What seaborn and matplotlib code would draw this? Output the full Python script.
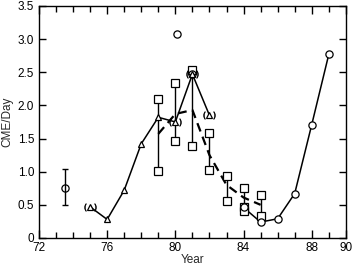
import matplotlib
matplotlib.use("Agg")
import matplotlib.pyplot as plt
import seaborn as sns
import pandas as pd
import numpy as np

# Solid series 1 (triangles)
yr_tri = [75, 76, 77, 78, 79, 80, 81, 82]
val_tri = [0.47, 0.28, 0.72, 1.42, 1.82, 1.75, 2.47, 1.85]
paren_tri_years = [75, 80, 81, 82]

# Solid series 2 (circles)
yr_circ = [84, 85, 86, 87, 88, 89]
val_circ = [0.46, 0.24, 0.29, 0.67, 1.71, 2.77]

# Dashed series (mean)
yr_dash = [79, 80, 81, 82, 83, 84, 85]
val_dash = [1.57, 1.87, 1.93, 1.25, 0.80, 0.61, 0.50]

# Square range data
yr_sq = [79, 79, 80, 80, 81, 81, 82, 82, 83, 83, 84, 84, 84, 85, 85]
val_sq = [2.10, 1.01, 2.33, 1.47, 2.53, 1.39, 1.59, 1.02, 0.94, 0.56, 0.76, 0.47, 0.40, 0.65, 0.33]

# Isolated circles
yr_iso = [73.5, 80.1, 81.0]
val_iso = [0.75, 3.07, 2.47]
err_year = 73.5
err_lo, err_hi = 0.49, 1.04

x_major = [72, 76, 80, 84, 88, 90]
y_ticks = [0, 0.5, 1.0, 1.5, 2.0, 2.5, 3.0, 3.5]
y_labels = ["0", "0.5", "1.0", "1.5", "2.0", "2.5", "3.0", "3.5"]

sns.set_style("ticks")
plt.rcParams['font.family'] = ['Liberation Sans', 'DejaVu Sans']

fig = plt.figure(figsize=(3.54, 2.68), dpi=100)
ax = fig.add_axes([0.110, 0.112, 0.867, 0.866])

df_tri = pd.DataFrame({"Year": yr_tri, "v": val_tri})
df_circ = pd.DataFrame({"Year": yr_circ, "v": val_circ})
df_dash = pd.DataFrame({"Year": yr_dash, "v": val_dash})
df_sq = pd.DataFrame({"Year": yr_sq, "v": val_sq})

# square range bars
rng = df_sq.groupby("Year")["v"].agg(["min", "max"]).reset_index()
ax.vlines(rng["Year"], rng["min"], rng["max"], color="black", lw=1.0, zorder=2)

# dashed line
sns.lineplot(data=df_dash, x="Year", y="v", ax=ax, color="black", lw=1.6,
             linestyle=(0, (4, 2.5)), zorder=3)

# solid lines
sns.lineplot(data=df_tri, x="Year", y="v", ax=ax, color="black", lw=1.1, zorder=3)
sns.lineplot(data=df_circ, x="Year", y="v", ax=ax, color="black", lw=1.1, zorder=3)

# markers
ax.plot(df_sq["Year"], df_sq["v"], ls="none", marker="s", ms=5.2, mfc="white",
        mec="black", mew=0.9, zorder=4)
ax.plot(df_tri["Year"], df_tri["v"], ls="none", marker="^", ms=4.5, mfc="white",
        mec="black", mew=0.9, zorder=5)
ptri = df_tri[df_tri["Year"].isin(paren_tri_years)]
ax.plot(ptri["Year"], ptri["v"], ls="none", marker=r"$(\ \,\ )$", ms=8.5,
        mfc="black", mec="black", mew=0.4, zorder=5)
ax.plot(df_circ["Year"], df_circ["v"], ls="none", marker="o", ms=5.2, mfc="white",
        mec="black", mew=0.9, zorder=5)
ax.plot(yr_iso, val_iso, ls="none", marker="o", ms=5.2, mfc="none",
        mec="black", mew=0.9, zorder=5)

# error bar at 73.5
ax.errorbar([err_year], [val_iso[0]], yerr=[[val_iso[0] - err_lo], [err_hi - val_iso[0]]],
            fmt="none", ecolor="black", elinewidth=1.0, capsize=2.5, capthick=1.0, zorder=3)

ax.set_xlim(72, 90)
ax.set_ylim(0, 3.5)
ax.set_xticks(x_major)
ax.set_xticklabels([str(v) for v in x_major])
ax.set_xticks(np.arange(72, 91, 1), minor=True)
ax.set_yticks(y_ticks)
ax.set_yticklabels(y_labels)

ax.tick_params(axis="both", which="both", direction="in", top=True, right=True,
               labelsize=8.5, colors="black", width=1.0)
ax.tick_params(axis="x", which="major", length=6)
ax.tick_params(axis="x", which="minor", length=4)
ax.tick_params(axis="y", which="major", length=5)
ax.tick_params(axis="x", which="major", pad=3)

for s in ax.spines.values():
    s.set_color("black")
    s.set_linewidth(1.0)

ax.set_xlabel("Year", fontsize=8.5, labelpad=0)
ax.set_ylabel("CME/Day", fontsize=8.5, labelpad=3)

fig.savefig("out.png", dpi=100, facecolor="white")
